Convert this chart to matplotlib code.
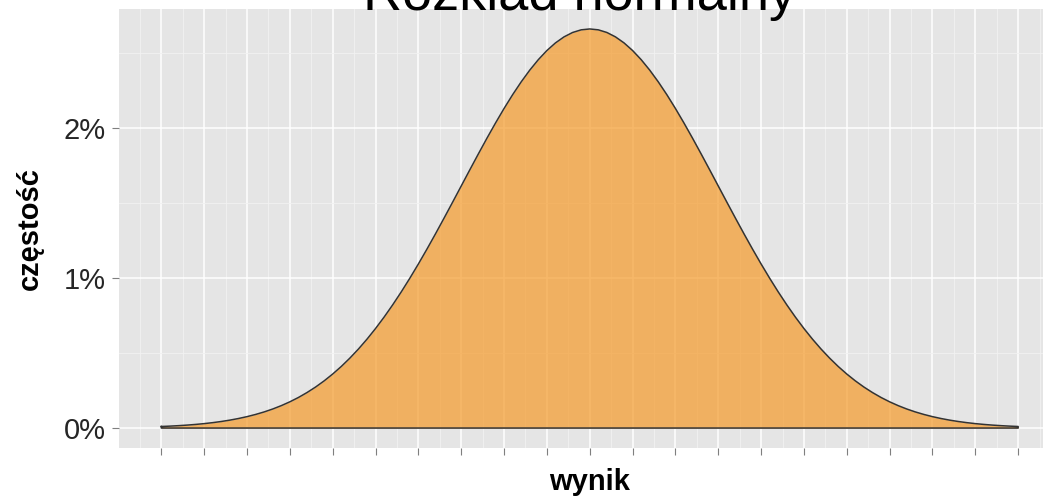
import matplotlib
matplotlib.use("Agg")
import matplotlib.pyplot as plt
from matplotlib.ticker import FixedLocator

plt.rcParams['font.family'] = ['Liberation Sans', 'DejaVu Sans']

# Data (x = wynik, y = częstość in %)
wynik = list(range(50, 151))
czestosc = [0.0103, 0.0128, 0.0159, 0.0196, 0.0241, 0.0295, 0.0360, 0.0437, 0.0528, 0.0635,
            0.0760, 0.0906, 0.1074, 0.1269, 0.1493, 0.1748, 0.2037, 0.2365, 0.2732, 0.3143,
            0.3600, 0.4103, 0.4658, 0.5263, 0.5921, 0.6632, 0.7395, 0.8209, 0.9072, 0.9982,
            1.0934, 1.1924, 1.2946, 1.3993, 1.5057, 1.6131, 1.7205, 1.8269, 1.9313, 2.0325,
            2.1297, 2.2215, 2.3070, 2.3852, 2.4551, 2.5159, 2.5667, 2.6069, 2.6361, 2.6537,
            2.6596,
            2.6537, 2.6361, 2.6069, 2.5667, 2.5159, 2.4551, 2.3852, 2.3070, 2.2215, 2.1297,
            2.0325, 1.9313, 1.8269, 1.7205, 1.6131, 1.5057, 1.3993, 1.2946, 1.1924, 1.0934,
            0.9982, 0.9072, 0.8209, 0.7395, 0.6632, 0.5921, 0.5263, 0.4658, 0.4103, 0.3600,
            0.3143, 0.2732, 0.2365, 0.2037, 0.1748, 0.1493, 0.1269, 0.1074, 0.0906, 0.0760,
            0.0635, 0.0528, 0.0437, 0.0360, 0.0295, 0.0241, 0.0196, 0.0159, 0.0128, 0.0103]
x_ticks = [50, 55, 60, 65, 70, 75, 80, 85, 90, 95, 100, 105, 110, 115, 120, 125, 130, 135,
           140, 145, 150]
y_ticks = [0, 1, 2]
y_tick_labels = ["0%", "1%", "2%"]
title = "Rozkład normalny"
x_label = "wynik"
y_label = "częstość"

W, H = 1043, 501
fig = plt.figure(figsize=(W / 100, H / 100), dpi=100)
fig.patch.set_facecolor('white')

left_px, right_px, top_px, bottom_px = 118.5, 1061, 9, 448
ax = fig.add_axes([left_px / W, 1 - bottom_px / H, (right_px - left_px) / W, (bottom_px - top_px) / H])
ax.set_facecolor('#E5E5E5')
for s in ax.spines.values():
    s.set_visible(False)

xmin, xmax = min(wynik), max(wynik)
xr = xmax - xmin
ax.set_xlim(xmin - 0.05 * xr, xmax + 0.05 * xr)
ymax = max(czestosc)
ax.set_ylim(-0.05 * ymax, ymax * 1.05)

ax.xaxis.set_major_locator(FixedLocator(x_ticks))
ax.xaxis.set_minor_locator(FixedLocator([t + 2.5 for t in x_ticks[:-1]] + [x_ticks[0] - 2.5, x_ticks[-1] + 2.5]))
ax.set_yticks(y_ticks)
ax.set_yticklabels(y_tick_labels)
ax.yaxis.set_minor_locator(FixedLocator([0.5, 1.5, 2.5]))
ax.set_xticklabels([])

ax.grid(which='major', color='white', linewidth=1.1)
ax.grid(which='minor', color='#F2F2F2', linewidth=0.6)
ax.set_axisbelow(True)

ax.tick_params(axis='both', which='major', length=5, width=0.8, color='#7F7F7F',
               labelsize=21, labelcolor='#262626', pad=4)
ax.tick_params(axis='both', which='minor', length=0)

ax.fill_between(wynik, czestosc, 0, color='#F59A29', alpha=0.7, linewidth=0, zorder=2)
ox = wynik + [wynik[-1], wynik[0], wynik[0]]
oy = czestosc + [0, 0, czestosc[0]]
ax.plot(ox, oy, color='#333333', linewidth=1.1, zorder=3, solid_joinstyle='round')

fig.text(579.5 / W, 1 - 10 / H, title, ha='center', va='baseline', fontsize=39, color='black')
fig.text(590 / W, 1 - 490 / H, x_label, ha='center', va='baseline', fontsize=21,
         fontweight='bold', color='black')
fig.text(30 / W, 1 - 228.5 / H, y_label, ha='center', va='center', rotation=90,
         fontsize=21, fontweight='bold', color='black')

fig.savefig('out.png', dpi=100)
